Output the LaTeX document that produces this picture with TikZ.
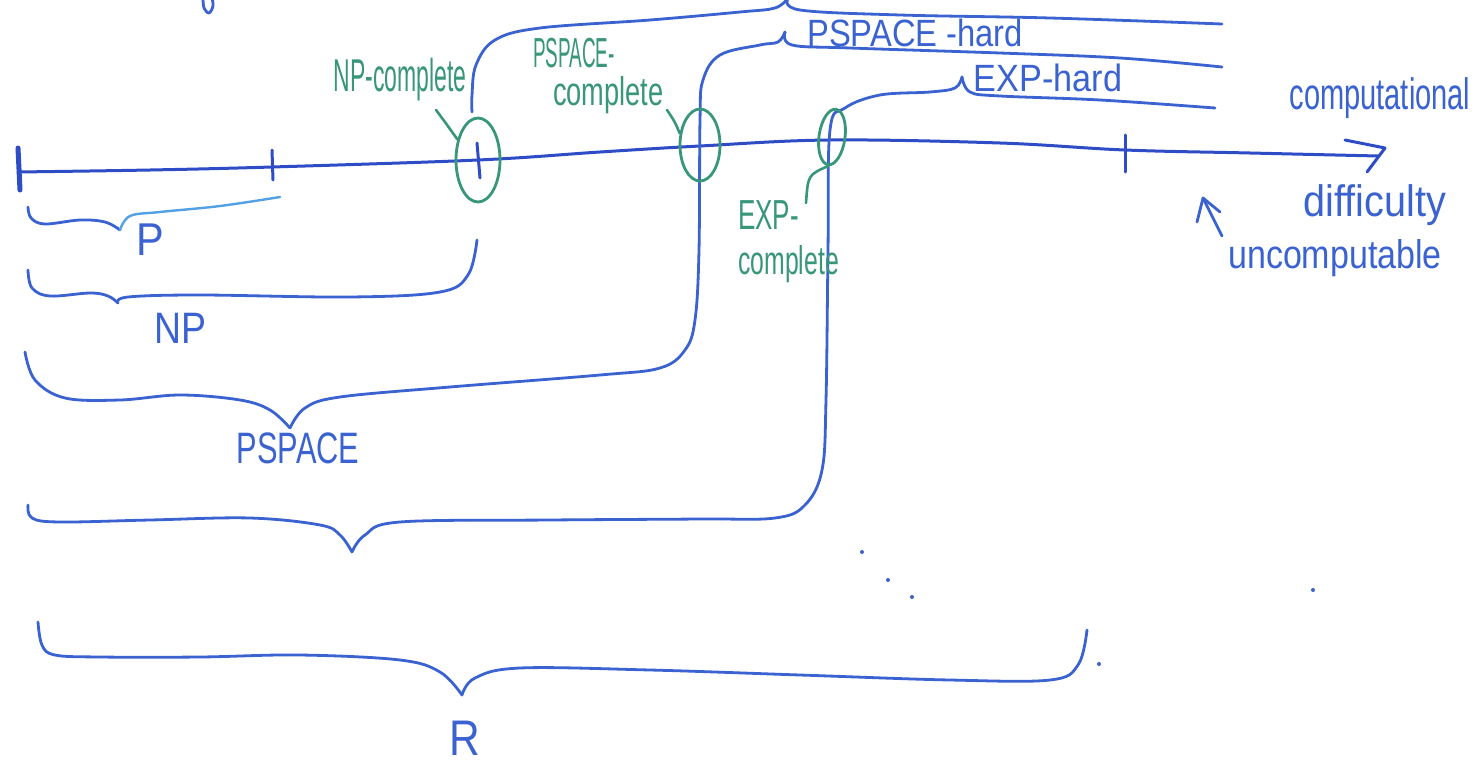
\documentclass[tikz,border=0pt]{standalone}
\usepackage{fontspec}
\setmainfont{Liberation Sans}
\usepackage{graphicx}
\usetikzlibrary{shapes.geometric}

\definecolor{marker}{RGB}{58,98,208}
\definecolor{axisblue}{RGB}{45,76,198}
\definecolor{lightmarker}{RGB}{84,160,228}
\definecolor{mgreen}{RGB}{56,150,122}

% horizontally squeezed handwriting-like text
\newcommand{\hs}[2]{\scalebox{#1}[1]{#2}}

\begin{document}
\begin{tikzpicture}[x=1pt,y=-1pt,
  stroke/.style={draw=marker, line width=2.8pt, line cap=round, line join=round},
  axisline/.style={draw=axisblue, line width=3pt, line cap=round, line join=round},
  ring/.style={ellipse, draw=mgreen, line width=2.8pt, inner sep=0pt},
  leader/.style={draw=mgreen, line width=2.6pt, line cap=round},
  bluelbl/.style={text=marker, inner sep=0pt},
  greenlbl/.style={text=mgreen, inner sep=0pt},
  dot/.style={fill=marker, circle, inner sep=0pt, minimum size=4pt}]

\useasboundingbox[fill=white] (0,0) rectangle (1479,765);

% difficulty axis with its ticks
\draw[axisline] plot[smooth, tension=0.6] coordinates {(18,172) (150,170) (272,167) (478,160) (600,152) (700,146) (830,140) (1000,143) (1125,150) (1250,153) (1378,156)};
\draw[axisline] (1345,140) -- (1385,148) -- (1367,172);
\draw[axisline, line width=5pt] (18,148) -- (20,190);
\draw[axisline] (272,150) -- (273,180);
\draw[axisline] (477,143) -- (480,178);
\draw[axisline] (1125,135) -- (1125,172);

% P
\draw[stroke] plot[smooth, tension=0.6] coordinates {(28,207) (31,218) (45,224) (80,220) (105,222) (120,230)};
\draw[draw=lightmarker, line width=2.4pt, line cap=round] plot[smooth, tension=0.6] coordinates {(120,230) (130,216) (160,212) (220,206) (280,197)};
\node[bluelbl] (lblP) at (150,240) {\hs{0.9}{\fontsize{46}{48}\selectfont P}};

% NP
\draw[stroke] plot[smooth, tension=0.6] coordinates {(28,270) (32,288) (50,296) (90,293) (108,296) (118,303)};
\draw[stroke] plot[smooth, tension=0.6] coordinates {(118,303) (128,297) (200,295) (350,297) (440,292) (468,275) (477,240)};
\node[bluelbl] (lblNP) at (180,328) {\hs{0.85}{\fontsize{44}{46}\selectfont NP}};

% PSPACE, continuing up as PSPACE-hard
\draw[stroke] plot[smooth, tension=0.6] coordinates {(25,352) (35,380) (65,398) (120,400) (180,395) (240,400) (270,410) (290,428)};
\draw[stroke] plot[smooth, tension=0.6] coordinates {(290,428) (305,408) (340,397) (450,387) (600,375) (660,368) (685,350) (695,320) (699,250) (700,120) (703,80) (720,55) (760,45) (778,42) (785,32)};
\draw[stroke] plot[smooth, tension=0.6] coordinates {(785,32) (792,45) (850,48) (1000,53) (1120,58) (1222,67)};
\node[bluelbl] (lblPSPACE) at (298,448) {\hs{0.7}{\fontsize{44}{46}\selectfont PSPACE}};
\node[bluelbl] (lblPSh) at (915,33) {\hs{0.86}{\fontsize{38}{40}\selectfont PSPACE -hard}};

% EXP, continuing up as EXP-hard
\draw[stroke] plot[smooth, tension=0.6] coordinates {(28,505) (32,518) (60,522) (150,520) (250,518) (320,525) (340,535) (352,552)};
\draw[stroke] plot[smooth, tension=0.6] coordinates {(352,552) (365,535) (400,522) (550,520) (700,519) (775,518) (805,505) (822,470) (826,400) (828,250) (830,130) (845,108) (880,95) (930,92) (955,88) (962,77)};
\draw[stroke] plot[smooth, tension=0.6] coordinates {(962,77) (970,92) (1000,96) (1100,100) (1215,108)};
\node[bluelbl] (lblEXPh) at (1048,78) {\hs{0.9}{\fontsize{38}{40}\selectfont EXP-hard}};

% NP-hard, running off the top
\draw[stroke] plot[smooth, tension=0.6] coordinates {(472,112) (472,95) (476,65) (495,40) (540,28) (650,20) (740,12) (775,8) (788,-2)};
\draw[stroke] plot[smooth, tension=0.6] coordinates {(788,-2) (800,10) (900,15) (1050,18) (1222,24)};
\draw[stroke] plot[smooth, tension=0.6] coordinates {(203,-2) (204,8) (209,13) (213,6) (212,-2)};

% R
\draw[stroke] plot[smooth, tension=0.6] coordinates {(38,622) (42,645) (55,655) (100,657) (200,657) (300,655) (400,660) (440,672) (462,695)};
\draw[stroke] plot[smooth, tension=0.6] coordinates {(462,695) (475,678) (520,668) (650,670) (800,675) (950,680) (1050,680) (1078,665) (1087,630)};
\node[bluelbl] (lblR) at (465,738) {\hs{0.85}{\fontsize{50}{52}\selectfont R}};

% complete classes circled on the axis
\node[ring, minimum width=44pt, minimum height=84pt] (npc) at (478,160) {};
\node[ring, minimum width=40pt, minimum height=72pt] (psc) at (700,145) {};
\node[ring, minimum width=26pt, minimum height=56pt, rotate=-8] (expc) at (832,137) {};

\coordinate (npcEnd) at (436,110);
\coordinate (pscEnd) at (667,110);
\coordinate (expcEnd) at (806,203);
\draw[leader] (npc.135) .. controls (445,122) .. (npcEnd);
\draw[leader] (psc.150) .. controls (675,122) .. (pscEnd);
\draw[leader] (expc.south) .. controls (808,175) .. (expcEnd);

\node[greenlbl] (lblNPc) at (400,80) {\hs{0.5}{\fontsize{46}{48}\selectfont NP-complete}};
\node[greenlbl, anchor=north west, align=left, font=\fontsize{40}{38}\selectfont] (lblPSc) at (533,38)
  {\hs{0.45}{\fontsize{42}{38}\selectfont PSPACE-}\\\hspace{20pt}\hs{0.68}{\fontsize{40}{38}\selectfont complete}};
\node[greenlbl, anchor=north west, align=left, font=\fontsize{40}{45}\selectfont] (lblEXPc) at (738,200)
  {\hs{0.62}{\fontsize{42}{45}\selectfont EXP-}\\\hs{0.62}{\fontsize{40}{45}\selectfont complete}};

% axis caption and the uncomputable region
\node[bluelbl] (lblComp) at (1380,98) {\hs{0.66}{\fontsize{44}{46}\selectfont computational}};
\node[bluelbl] (lblDiff) at (1375,205) {\hs{0.9}{\fontsize{44}{46}\selectfont difficulty}};
\node[bluelbl] (lblUnc) at (1335,258) {\hs{0.85}{\fontsize{40}{42}\selectfont uncomputable}};
\coordinate (uncTip) at (1203,198);
\draw[stroke] (1222,236) -- (uncTip);
\draw[stroke] (1197,222) -- (uncTip) -- (1220,212);

% stray marker dots
\node[dot] (d1) at (862,552) {};
\node[dot] (d2) at (888,580) {};
\node[dot] (d3) at (912,597) {};
\node[dot] (d4) at (1313,590) {};
\node[dot] (d5) at (1099,664) {};
\end{tikzpicture}
\end{document}
